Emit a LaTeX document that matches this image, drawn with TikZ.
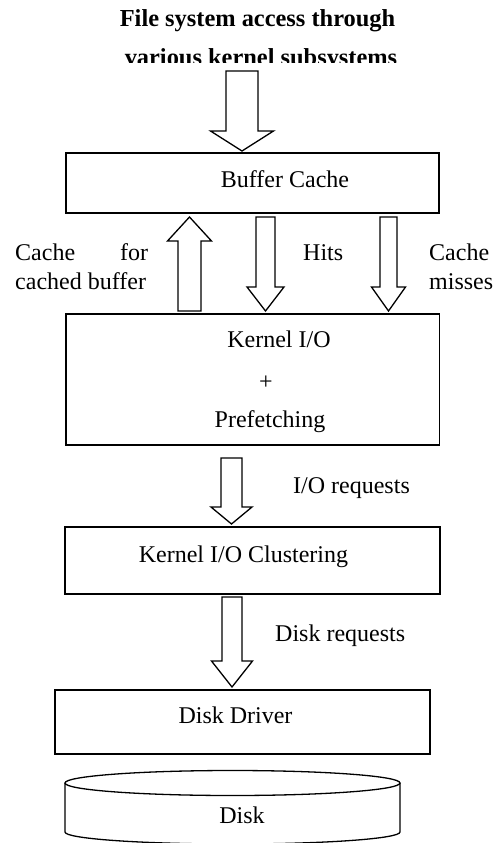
\documentclass[tikz,border=0pt]{standalone}
\usepackage{fontspec}
\setmainfont{Liberation Serif}
\newcommand\blkarrow[6]{% centre x, tail y, head-start y, tip y, shaft half width, head half width
  \draw[blk] ({#1-#5},{#2}) -- ({#1+#5},{#2}) -- ({#1+#5},{#3}) -- ({#1+#6},{#3})
    -- ({#1},{#4}) -- ({#1-#6},{#3}) -- ({#1-#5},{#3}) -- cycle;}
\begin{document}
\begin{tikzpicture}[x=1pt,y=-1pt,
  box/.style={draw,line width=1.3pt,inner sep=0pt,outer sep=0pt},
  blk/.style={draw,line width=1.3pt,line join=miter,fill=white},
  txt/.style={font=\fontsize{24}{29}\selectfont,inner sep=0pt,anchor=base},
  ttl/.style={font=\fontsize{24.4}{29}\selectfont\bfseries,inner sep=0pt,anchor=base}]
\useasboundingbox (0,0) rectangle (495,843);
% title
\node[ttl] (t1) at (257.5,27) {File system access through};
\begin{scope}
  \clip (0,0) rectangle (495,63);
  \node[ttl] (t2) at (261,66) {various kernel subsystems};
\end{scope}
% boxes
\node[box,minimum width=373pt,minimum height=60pt] (bc) at (252.5,183) {};
\node[box,minimum width=373.5pt,minimum height=131pt] (kio) at (252.75,379.5) {};
\node[box,minimum width=375pt,minimum height=67pt] (clu) at (252.5,560.5) {};
\node[box,minimum width=375pt,minimum height=64pt] (dd) at (242.5,722) {};
% box texts
\node[txt] (bct) at (285,187) {Buffer Cache};
\node[txt] (k1) at (279,347) {Kernel I/O};
\node[txt] (k2) at (266,389) {+};
\node[txt] (k3) at (270,427) {Prefetching};
\node[txt] (clt) at (243.5,562) {Kernel I/O Clustering};
\node[txt] (ddt) at (235.5,723) {Disk Driver};
% disk cylinder
\draw[line width=1.3pt] (232.5,783) ellipse[x radius=167.5, y radius=12.5];
\draw[line width=1.3pt] (65,783) -- (65,832) arc[start angle=180, end angle=0, x radius=167.5, y radius=12] -- (400,783);
\node[txt] (disk) at (242,823) {Disk};
% block arrows
\blkarrow{242}{71}{131}{151}{16}{31.5}
\blkarrow{189.5}{311}{241}{217}{11.5}{22}
\blkarrow{265.5}{217}{287}{311}{9.5}{18.5}
\blkarrow{388.5}{217}{287}{311}{8.5}{17}
\blkarrow{231.5}{458}{507}{524}{10.5}{20.5}
\blkarrow{232}{597}{661}{687}{10}{20.5}
% labels
\node[txt,anchor=base west,text width=133pt,align=justify] (lcf) at (15,260)
  {\hyphenpenalty=10000 Cache for cached buffer};
\node[txt,anchor=base west] (lh) at (303,260) {Hits};
\node[txt,anchor=base west,align=left] (lcm) at (429,289) {Cache\\misses};
\node[txt,anchor=base west] (lio) at (293,493) {I/O requests};
\node[txt,anchor=base west] (ldr) at (275,641) {Disk requests};
\end{tikzpicture}
\end{document}
